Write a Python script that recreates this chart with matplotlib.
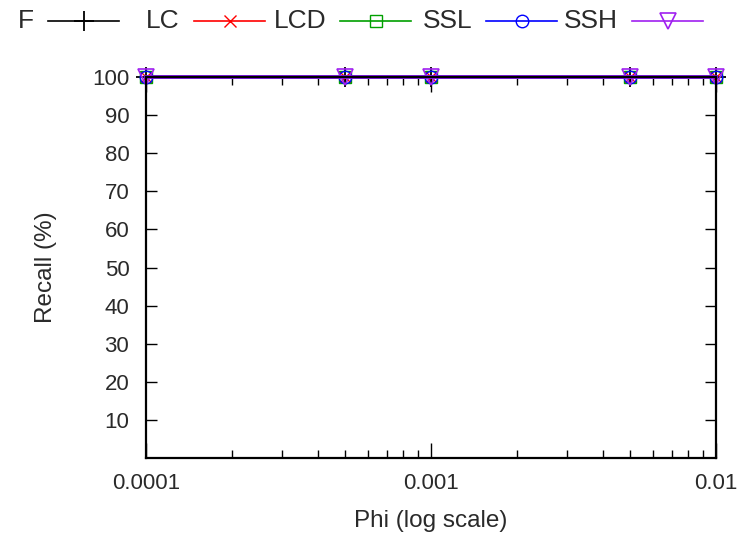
import matplotlib
matplotlib.use("Agg")
import matplotlib.pyplot as plt
from matplotlib.lines import Line2D

plt.rcParams["font.family"] = ["Liberation Sans", "DejaVu Sans"]

# data
phi = [0.0001, 0.0005, 0.001, 0.005, 0.01]
series_names = ["F", "LC", "LCD", "SSL", "SSH"]
recall = {
    "F":   [100, 100, 100, 100, 100],
    "LC":  [100, 100, 100, 100, 100],
    "LCD": [100, 100, 100, 100, 100],
    "SSL": [100, 100, 100, 100, 100],
    "SSH": [100, 100, 100, 100, 100],
}
y_ticks = [10, 20, 30, 40, 50, 60, 70, 80, 90, 100]
x_ticks = [0.0001, 0.001, 0.01]
x_tick_labels = ["0.0001", "0.001", "0.01"]

styles = {
    "F":   dict(color="black",   marker="+", mfc="none", ms=15, mew=1.3),
    "LC":  dict(color="#ff0000", marker="x", mfc="none", ms=9,  mew=1.0),
    "LCD": dict(color="#00a000", marker="s", mfc="none", ms=9,  mew=1.0),
    "SSL": dict(color="#0000ff", marker="o", mfc="none", ms=9,  mew=1.0),
    "SSH": dict(color="#a020f0", marker="v", mfc="none", ms=12, mew=1.2),
}

W, H = 744, 537
TICK_FS = 16
LABEL_FS = 17.5
KEY_FS = 19
TXT = "#2a2a2a"

fig = plt.figure(figsize=(W / 100, H / 100), dpi=100)
ax = fig.add_axes([146 / W, 1 - 458 / H, (716 - 146) / W, (458 - 77) / H])

for name in series_names:
    ax.plot(phi, recall[name], lw=2.6, label=name, clip_on=False, zorder=2,
            **styles[name])

ax.set_xscale("log")
ax.set_xlim(0.0001, 0.01)
ax.set_ylim(0, 100)
ax.set_xticks(x_ticks)
ax.set_xticklabels(x_tick_labels)
ax.set_yticks(y_ticks)

ax.tick_params(axis="both", which="both", direction="in", top=True, right=True,
               labelsize=TICK_FS, labelcolor=TXT)
ax.tick_params(axis="y", which="major", length=8, width=1.0, pad=12)
ax.tick_params(axis="x", which="major", length=11, width=1.0, pad=11)
ax.tick_params(axis="x", which="minor", length=6, width=1.0)
for s in ax.spines.values():
    s.set_linewidth(1.6)
    s.set_zorder(2.5)

ax.set_xlabel("Phi (log scale)", fontsize=LABEL_FS, color=TXT, labelpad=11)
ax.set_ylabel("Recall (%)", fontsize=LABEL_FS, color=TXT, labelpad=25)

# gnuplot-style key across the top: label first, then sample
ly = 1 - 21 / H
for i, name in enumerate(series_names):
    x0 = 48 + i * 146
    fig.text((x0 - 14) / W, ly, name, ha="right", va="center",
             fontsize=KEY_FS, color=TXT)
    st = styles[name]
    fig.add_artist(Line2D([x0 / W, (x0 + 71) / W], [ly, ly], color=st["color"],
                          lw=1.2, transform=fig.transFigure))
    fig.add_artist(Line2D([(x0 + 35.5) / W], [ly], transform=fig.transFigure,
                          linestyle="none", **st))

fig.savefig("out.png", dpi=100)
